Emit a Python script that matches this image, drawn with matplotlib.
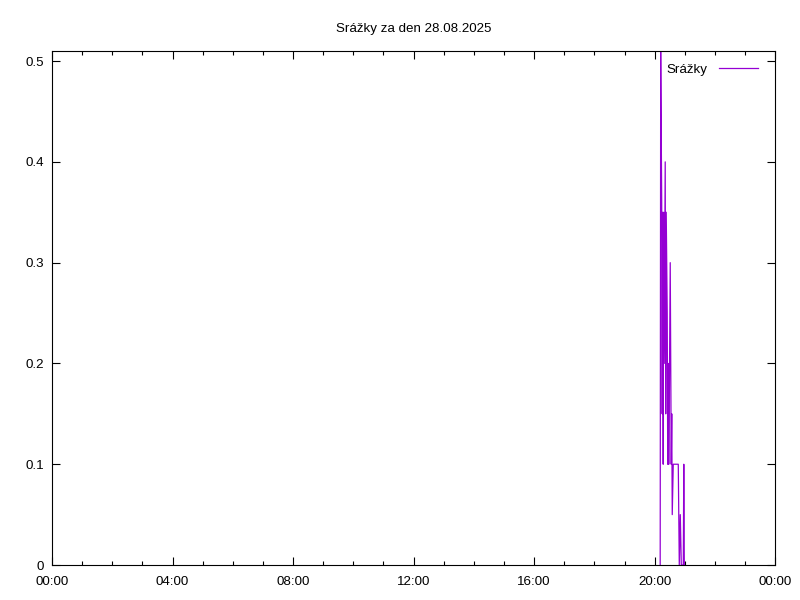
import matplotlib
matplotlib.use('Agg')
import matplotlib.pyplot as plt
from matplotlib.ticker import FixedLocator, FuncFormatter

plt.rcParams['font.family'] = ['Liberation Sans', 'DejaVu Sans']
plt.rcParams['font.size'] = 9.6

# mereni srazek 28.08.2025 (cas, mm)
casy = ['20:11', '20:12', '20:14', '20:15', '20:16', '20:17', '20:18', '20:19',
        '20:21', '20:22', '20:23', '20:25', '20:26', '20:27', '20:28', '20:29',
        '20:31', '20:33', '20:34', '20:35', '20:37', '20:47', '20:48', '20:49',
        '20:51', '20:53', '20:57', '20:58', '20:59']
srazky = [0.0, 0.51, 0.36, 0.15, 0.35, 0.10, 0.35, 0.20,
          0.40, 0.15, 0.35, 0.25, 0.10, 0.20, 0.10, 0.15,
          0.30, 0.10, 0.15, 0.05, 0.10, 0.10, 0.05, 0.0,
          0.05, 0.0, 0.0, 0.10, 0.0]

x_ticks = [0, 4, 8, 12, 16, 20, 24]
y_ticks = [0, 0.1, 0.2, 0.3, 0.4, 0.5]


def na_hodiny(t):
    h, m = t.split(':')
    return int(h) + int(m) / 60.0


hodiny = [na_hodiny(t) for t in casy]

fig = plt.figure(figsize=(8, 6), dpi=100)
ax = fig.add_axes([0.065, 0.0583, 0.904, 0.8567])

ax.plot(hodiny, srazky, color='#9400D3', linewidth=0.9, label='Srážky', zorder=2)

ax.set_xlim(0, 24)
ax.set_ylim(0, 0.51)

ax.xaxis.set_major_locator(FixedLocator(x_ticks))
ax.xaxis.set_minor_locator(FixedLocator(range(25)))
ax.xaxis.set_major_formatter(FuncFormatter(lambda v, p: '%02d:00' % (int(v) % 24)))
ax.yaxis.set_major_locator(FixedLocator(y_ticks))
ax.yaxis.set_major_formatter(FuncFormatter(lambda v, p: '0' if v == 0 else '%.1f' % v))

ax.tick_params(which='both', direction='in', top=True, right=True, width=0.8, colors='black')
ax.tick_params(which='major', length=6, pad=8)
ax.tick_params(which='minor', length=3)
ax.tick_params(axis='y', pad=6)
for s in ax.spines.values():
    s.set_linewidth(0.8)
    s.set_zorder(3)

ax.set_title('Srážky za den 28.08.2025', fontsize=9.6, pad=14)

ax.legend(loc='upper right', bbox_to_anchor=(0.989, 0.994), frameon=False,
          markerfirst=False, handlelength=2.9, handletextpad=0.9,
          borderaxespad=0.3, fontsize=9.6)

fig.savefig('out.png', dpi=100)
